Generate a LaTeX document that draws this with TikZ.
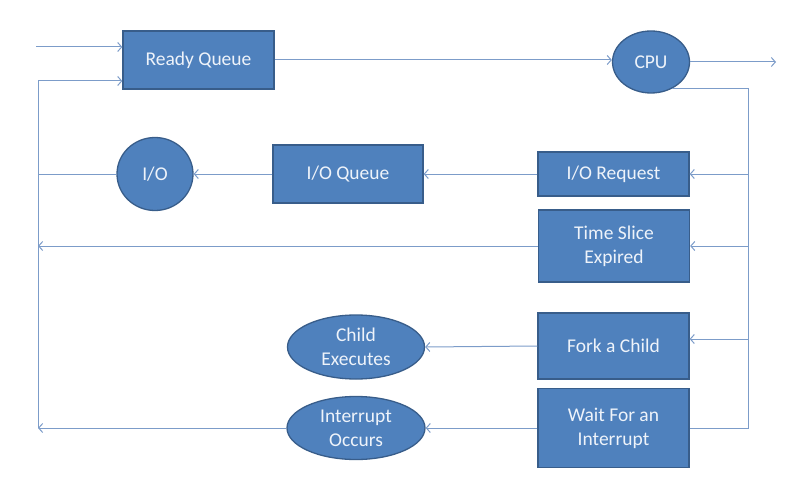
\documentclass[tikz,border=0pt]{standalone}
\usepackage{fontspec}
\setmainfont{Carlito}
\usetikzlibrary{arrows.meta,shapes.geometric}
\definecolor{boxfill}{HTML}{4F81BD}
\definecolor{boxline}{HTML}{385D8A}
\definecolor{wirecol}{HTML}{7C9CC9}
\definecolor{txtcol}{HTML}{EEF3FA}
\begin{document}
\begin{tikzpicture}[x=1pt,y=-1pt,
  shp/.style={draw=boxline, line width=1.3pt, fill=boxfill, text=txtcol,
    font=\fontsize{19.5}{24}\selectfont, align=center, inner sep=0pt},
  rbox/.style={shp, rectangle, minimum width=151pt},
  ell/.style={shp, ellipse},
  wire/.style={draw=wirecol, line width=1pt},
  arr/.style={wire, -{Straight Barb[length=4pt,width=9pt]}}]
\useasboundingbox (0,0) rectangle (802,481);
% nodes
\node[rbox, minimum height=58pt] (rq) at (198.5,60) {Ready Queue};
\node[ell, minimum width=77pt, minimum height=62pt] (cpu) at (651,62) {CPU};
\node[ell, minimum width=76pt, minimum height=73pt] (io) at (155,174) {I/O};
\node[rbox, minimum width=150pt, minimum height=58pt] (ioq) at (348,174) {I/O Queue};
\node[rbox, minimum height=44pt] (ioreq) at (613.5,174) {I/O Request};
\node[rbox, minimum height=72pt] (tse) at (614,246) {Time Slice\\Expired};
\node[rbox, minimum height=66pt] (fork) at (613.5,346) {Fork a Child};
\node[rbox, minimum height=79pt] (wait) at (613.5,428) {Wait For an\\Interrupt};
\node[ell, minimum width=137pt, minimum height=64pt] (child) at (356,347) {Child\\Executes};
\node[ell, minimum width=138pt, minimum height=63pt] (intr) at (356,428) {Interrupt\\Occurs};
% helper coordinates
\coordinate (in) at (36,47);
\coordinate (ltop) at (38,81);
\coordinate (lbot) at (38,428);
\coordinate (rb) at (748,428);
\coordinate (out) at (776,62);
\coordinate (fk) at (748,339);
% connectors
\draw[arr] (in) -- (in -| rq.west);
\draw[arr] (ltop) -- (ltop -| rq.west);
\draw[wire] (ltop) -- (lbot);
\draw[arr] (rq.east) -- (rq.east -| cpu.west);
\draw[arr] (cpu.east) -- (out);
\draw[wire] (cpu.-52) -| (rb) -- (wait.east);
\draw[arr] (ioreq.east -| rb) -- (ioreq.east);
\draw[arr] (tse.east -| rb) -- (tse.east);
\draw[arr] (fk) -- (fk -| fork.east);
\draw[arr] (ioreq.west) -- (ioq.east);
\draw[arr] (ioq.west) -- (io.east);
\draw[wire] (io.west) -- (io.west -| ltop);
\draw[arr] (tse.west) -- (tse.west -| ltop);
\draw[arr] (fork.west) -- (child.east);
\draw[arr] (wait.west) -- (intr.east);
\draw[arr] (intr.west) -- (lbot);
\end{tikzpicture}
\end{document}
